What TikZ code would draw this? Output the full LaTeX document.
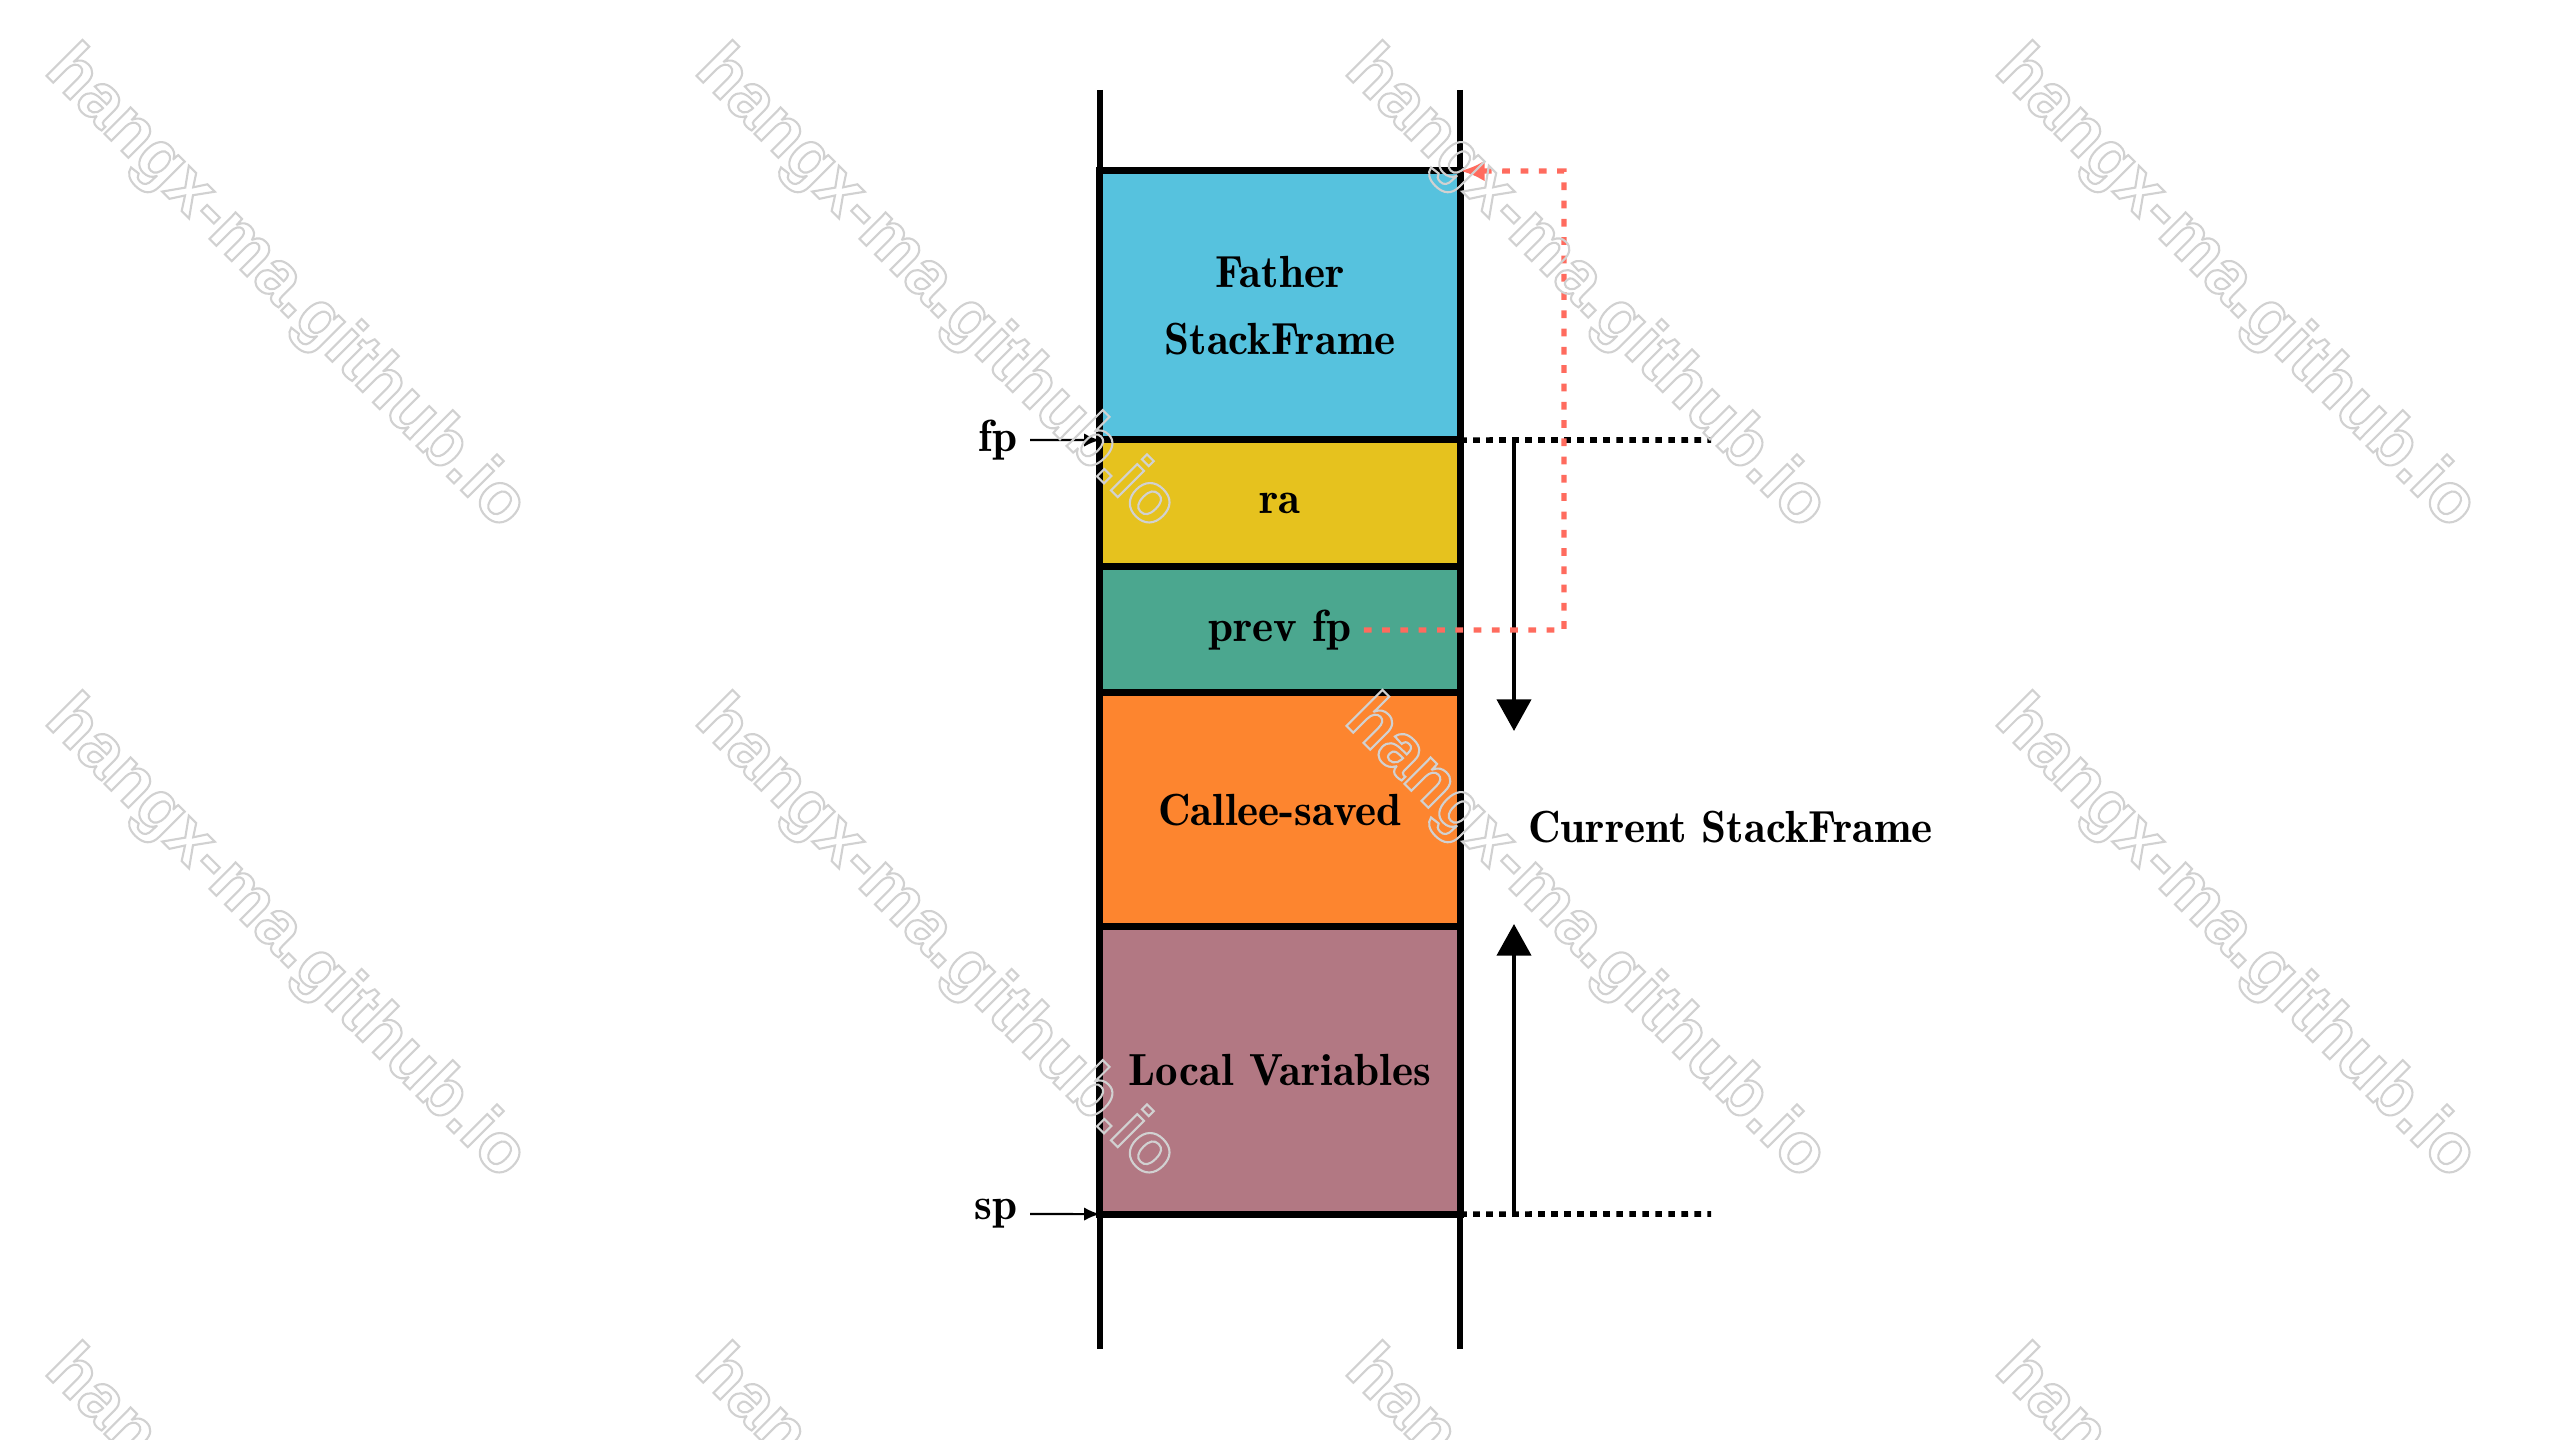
\documentclass[tikz,border=0pt]{standalone}
\usepackage{fontspec}
\newfontfamily\wmfont{Liberation Sans}
\newfontfamily\demifont{lmromandemi10-regular.otf}
\usetikzlibrary{arrows.meta}

\definecolor{frameblue}{HTML}{56C2DE}
\definecolor{rayellow}{HTML}{E6C21E}
\definecolor{fpteal}{HTML}{4BA78F}
\definecolor{calleeorange}{HTML}{FD852F}
\definecolor{localmauve}{HTML}{B27883}
\definecolor{ptrred}{HTML}{FF6B5E}

% hollow (stroked) lettering for the site mark
\newcommand{\hollowtext}[1]{\special{pdf:literal direct 1 Tr 0.82 G 0.6 w}#1\special{pdf:literal direct 0 Tr}}

\begin{document}
\begin{tikzpicture}[x=0.01cm,y=-0.01cm,
  every node/.style={font=\demifont\fontsize{12.8pt}{19pt}\selectfont},
  cell/.style={draw=black, line width=2pt, minimum width=3.6cm, inner sep=0pt, outer sep=0pt, align=center},
  wall/.style={line width=1.7pt},
  guide/.style={line width=1.6pt, dash pattern=on 1.9pt off 1.8pt},
  span/.style={line width=1.1pt, -{Triangle[length=9pt,width=9.7pt]}},
  ptr/.style={line width=0.6pt, -{Latex[length=4.5pt,width=3.8pt]}},
  redptr/.style={draw=ptrred, line width=1.5pt, dash pattern=on 2.2pt off 3pt, -{Latex[length=7pt,width=6pt]}},
  watermark/.style={rotate=-45, font=\wmfont\bfseries\fontsize{20pt}{20pt}\selectfont}
]
\useasboundingbox (0,0) rectangle (2560,1440);

% stack walls
\coordinate (wlt) at (1100,90);  \coordinate (wlb) at (1100,1349);
\coordinate (wrt) at (1460,90);  \coordinate (wrb) at (1460,1349);
\draw[wall] (wlt) -- (wlb);
\draw[wall] (wrt) -- (wrb);

% stack slots
\node[cell, fill=frameblue,    minimum height=2.69cm] (father) at (1280,305.5) {Father\\StackFrame};
\node[cell, fill=rayellow,     minimum height=1.27cm] (ra)     at (1280,503.5) {ra};
\node[cell, fill=fpteal,       minimum height=1.26cm] (prev)   at (1280,630)   {};
\node (prevtxt) at (prev.center) {prev fp};
\node[cell, fill=calleeorange, minimum height=2.34cm] (callee) at (1280,810)   {Callee-saved};
\node[cell, fill=localmauve,   minimum height=2.87cm] (local)  at (1280,1070.5) {Local Variables};

% frame extent guides
\coordinate (fpend) at (1711,440);
\coordinate (spend) at (1711,1214);
\draw[guide] (father.south east) -- (fpend);
\draw[guide] (local.south east) -- (spend);

\coordinate (downtip) at (1514,731);
\coordinate (uptip)   at (1514,924);
\draw[span] (downtip |- father.south) -- (downtip);
\draw[span] (uptip |- local.south) -- (uptip);
\node[anchor=west] (cur) at (1516,827) {Current StackFrame};

% register pointers
\node[anchor=east] (fplbl) at (1030,440) {fp};
\node[anchor=east] (splbl) at (1030,1214) {sp};
\draw[ptr] (fplbl.east) -- (father.south west);
\draw[ptr] (splbl.east) -- (local.south west);

% saved frame pointer link
\coordinate (redx) at (1564,171);
\draw[redptr] (prevtxt.east) -- (prevtxt.east -| redx) -- (redx) -- (father.north east);

% site mark
\begin{scope}
\clip (0,0) rectangle (2560,1440);
\foreach \i in {0,...,3}
  \foreach \j in {0,1,2}
    \node[watermark] (wm-\i-\j) at ({285+650*\i},{289+650*\j}) {\hollowtext{hangx-ma.github.io}};
\end{scope}
\end{tikzpicture}
\end{document}
